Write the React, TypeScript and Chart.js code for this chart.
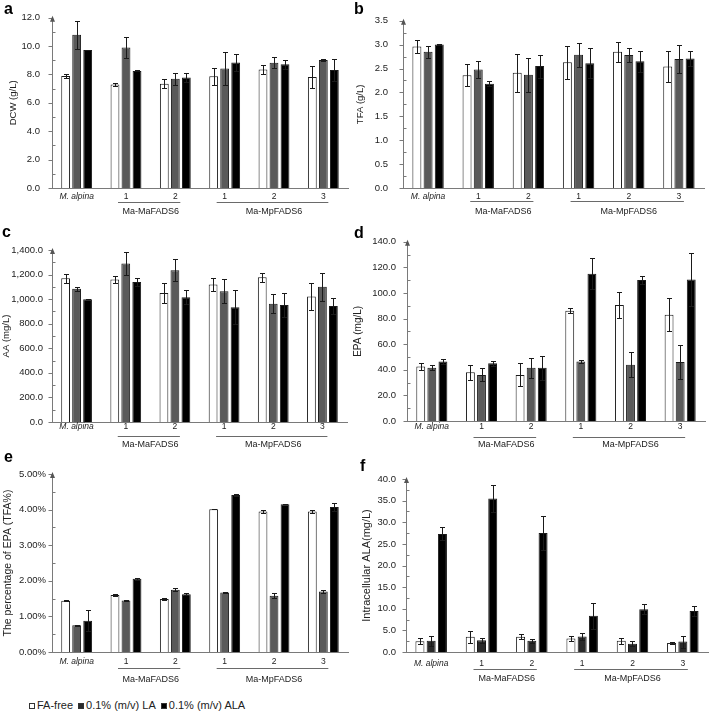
import React, { useEffect, useRef } from 'react';
import { Chart, registerables } from 'chart.js';

Chart.register(...registerables);

const FONT = '"Liberation Sans", Arial, Helvetica, sans-serif';

// ---- shared categories / groups / series ----
const categories = ['M. alpina', '1', '2', '1', '2', '3'];
const groupNames = ['Ma-MaFADS6', 'Ma-MpFADS6'];
const groupStart = [1, 3];
const groupEnd = [2, 5];
const seriesNames = ['FA-free', '0.1% (m/v) LA', '0.1% (m/v) ALA'];

// ---- a: DCW (g/L) ----
const dcwFree = [7.9, 7.3, 7.35, 7.87, 8.35, 7.82];
const dcwFreeErr = [0.15, 0.08, 0.33, 0.6, 0.35, 0.8];
const dcwLA = [10.8, 9.9, 7.7, 8.42, 8.82, 9.02];
const dcwLAErr = [1.0, 0.73, 0.42, 1.15, 0.38, 0.08];
const dcwALA = [9.72, 8.25, 7.78, 8.85, 8.72, 8.32];
const dcwALAErr = [0.02, 0.03, 0.3, 0.58, 0.33, 0.78];

// ---- b: TFA (g/L) ----
const tfaFree = [2.96, 2.36, 2.41, 2.63, 2.85, 2.54];
const tfaFreeErr = [0.14, 0.23, 0.4, 0.34, 0.21, 0.32];
const tfaLA = [2.85, 2.48, 2.37, 2.79, 2.78, 2.7];
const tfaLAErr = [0.12, 0.18, 0.36, 0.25, 0.14, 0.3];
const tfaALA = [3.0, 2.18, 2.55, 2.61, 2.65, 2.71];
const tfaALAErr = [0.01, 0.05, 0.24, 0.31, 0.22, 0.15];

// ---- c: AA (mg/L) ----
const aaFree = [1170, 1160, 1050, 1120, 1178, 1022];
const aaFreeErr = [35, 28, 85, 50, 36, 110];
const aaLA = [1085, 1290, 1235, 1065, 962, 1100];
const aaLAErr = [15, 97, 90, 95, 76, 116];
const aaALA = [1000, 1140, 1015, 935, 952, 945];
const aaALAErr = [2, 33, 58, 140, 94, 63];

// ---- d: EPA (mg/L) ----
const epaFree = [42.5, 38, 36, 86, 90.5, 83];
const epaFreeErr = [2.5, 6, 9, 2, 10, 13];
const epaLA = [41.5, 36, 41.5, 46.5, 44, 46];
const epaLAErr = [2, 5, 8, 1.3, 9.5, 13];
const epaALA = [46.5, 45, 41.5, 115, 110, 110.5];
const epaALAErr = [2.3, 2, 9.5, 12, 3, 21];

// ---- e: EPA percentage of TFA (%) ----
const pctFree = [1.44, 1.6, 1.49, 4.01, 3.95, 3.95];
const pctFreeErr = [0.01, 0.02, 0.04, 0.005, 0.04, 0.04];
const pctLA = [0.75, 1.45, 1.75, 1.67, 1.58, 1.7];
const pctLAErr = [0.01, 0.02, 0.05, 0.005, 0.07, 0.04];
const pctALA = [0.88, 2.06, 1.62, 4.41, 4.15, 4.07];
const pctALAErr = [0.29, 0.03, 0.03, 0.02, 0.005, 0.12];

// ---- f: intracellular ALA (mg/L) ----
const alaFree = [2.5, 3.5, 3.5, 3.1, 2.6, 2.1];
const alaFreeErr = [0.7, 1.4, 0.6, 0.5, 0.7, 0.3];
const alaLA = [2.6, 2.7, 2.6, 3.6, 1.9, 2.4];
const alaLAErr = [1.1, 0.6, 0.5, 0.9, 0.6, 1.4];
const alaALA = [27.3, 35.5, 27.5, 8.4, 9.9, 9.5];
const alaALAErr = [1.5, 3.2, 3.9, 3.0, 1.1, 1.2];

const fmt1 = (v: number) => v.toFixed(1);
const fmtComma = (v: number) =>
  v.toLocaleString('en-US', { minimumFractionDigits: 1, maximumFractionDigits: 1 });
const fmtPct = (v: number) => v.toFixed(2) + '%';

type PanelSpec = {
  letter: string;
  x: number; y: number; w: number; h: number;
  L: number; R: number; T: number; B: number;
  max: number; minor: number; fmt: (v: number) => string;
  title: string; titleSize: number; titleCenter: number;
  tickPad: number; xPad: number; lineOff: number; groupOff: number;
  values: number[][]; errors: number[][];
  colors: string[];
  letterPos: [number, number];
};

const baseColors = ['#ffffff', '#5a5a5a', '#000000'];
const fColors = ['#ffffff', '#2a2a2a', '#000000'];

const panels: PanelSpec[] = [
  {
    letter: 'a', x: 0, y: 0, w: 355, h: 225, L: 52, R: 348, T: 15, B: 188,
    max: 12, minor: 1, fmt: fmt1, title: 'DCW (g/L)', titleSize: 9.5, titleCenter: 13,
    tickPad: 12, xPad: 4, lineOff: 13.5, groupOff: 23.5,
    values: [dcwFree, dcwLA, dcwALA], errors: [dcwFreeErr, dcwLAErr, dcwALAErr],
    colors: baseColors, letterPos: [4, 1],
  },
  {
    letter: 'b', x: 350, y: 0, w: 360, h: 225, L: 403, R: 704, T: 15, B: 188,
    max: 3.5, minor: 0.25, fmt: fmt1, title: 'TFA (g/L)', titleSize: 9.5, titleCenter: 10,
    tickPad: 15, xPad: 3.5, lineOff: 13, groupOff: 23.5,
    values: [tfaFree, tfaLA, tfaALA], errors: [tfaFreeErr, tfaLAErr, tfaALAErr],
    colors: baseColors, letterPos: [354, 1],
  },
  {
    letter: 'c', x: 0, y: 225, w: 355, h: 225, L: 52, R: 347, T: 250, B: 422,
    max: 1400, minor: 100, fmt: fmtComma, title: 'AA (mg/L)', titleSize: 9.5, titleCenter: 6.5,
    tickPad: 9, xPad: 0, lineOff: 14, groupOff: 23,
    values: [aaFree, aaLA, aaALA], errors: [aaFreeErr, aaLAErr, aaALAErr],
    colors: baseColors, letterPos: [2, 224],
  },
  {
    letter: 'd', x: 350, y: 225, w: 360, h: 225, L: 407, R: 705, T: 240, B: 421,
    max: 140, minor: 10, fmt: fmt1, title: 'EPA (mg/L)', titleSize: 10, titleCenter: 8,
    tickPad: 11, xPad: 1, lineOff: 15.5, groupOff: 23.5,
    values: [epaFree, epaLA, epaALA], errors: [epaFreeErr, epaLAErr, epaALAErr],
    colors: baseColors, letterPos: [354, 225],
  },
  {
    letter: 'e', x: 0, y: 450, w: 355, h: 240, L: 52, R: 348, T: 474, B: 652,
    max: 5, minor: 0.5, fmt: fmtPct, title: 'The percentage of EPA (TFA%)', titleSize: 10.5, titleCenter: 8.5,
    tickPad: 6, xPad: 4.5, lineOff: 16, groupOff: 27.5,
    values: [pctFree, pctLA, pctALA], errors: [pctFreeErr, pctLAErr, pctALAErr],
    colors: baseColors, letterPos: [4, 449],
  },
  {
    letter: 'f', x: 350, y: 450, w: 360, h: 240, L: 406, R: 708, T: 479, B: 652,
    max: 40, minor: 2.5, fmt: fmt1, title: 'Intracellular ALA(mg/L)', titleSize: 11, titleCenter: 17,
    tickPad: 10, xPad: 7, lineOff: 17, groupOff: 27,
    values: [alaFree, alaLA, alaALA], errors: [alaFreeErr, alaLAErr, alaALAErr],
    colors: fColors, letterPos: [360, 458],
  },
];

function makeDecor(p: PanelSpec) {
  return {
    id: 'decor' + p.letter,
    afterDatasetsDraw(chart: any) {
      const ctx = chart.ctx;
      const ys = chart.scales.y;
      ctx.save();
      ctx.strokeStyle = '#1a1a1a';
      ctx.lineWidth = 1;
      chart.data.datasets.forEach((ds: any, i: number) => {
        const meta = chart.getDatasetMeta(i);
        const errs = p.errors[i];
        meta.data.forEach((el: any, j: number) => {
          const v = ds.data[j];
          const e = errs[j];
          if (!e) return;
          const top = Math.round(ys.getPixelForValue(v + e)) + 0.5;
          const bot = Math.round(ys.getPixelForValue(Math.max(0, v - e))) + 0.5;
          const cx = Math.round(el.x) + 0.5;
          ctx.beginPath();
          ctx.moveTo(cx, top);
          ctx.lineTo(cx, bot);
          ctx.moveTo(cx - 2.5, top);
          ctx.lineTo(cx + 2.5, top);
          ctx.moveTo(cx - 2.5, bot);
          ctx.lineTo(cx + 2.5, bot);
          ctx.stroke();
        });
      });
      ctx.restore();
    },
    afterDraw(chart: any) {
      const ctx = chart.ctx;
      const ys = chart.scales.y;
      const xs = chart.scales.x;
      const area = chart.chartArea;
      const L = Math.round(area.left) + 0.5;
      ctx.save();
      // y tick marks: major outside, minor inside
      ctx.strokeStyle = '#7a7a7a';
      ctx.lineWidth = 1;
      ys.ticks.forEach((t: any, i: number) => {
        const yy = Math.round(ys.getPixelForValue(t.value)) + 0.5;
        ctx.beginPath();
        if (i % 2 === 0) {
          ctx.moveTo(L - 4, yy);
          ctx.lineTo(L, yy);
        } else {
          ctx.moveTo(L, yy);
          ctx.lineTo(L + 3, yy);
        }
        ctx.stroke();
      });
      // arrow at top of y axis
      ctx.fillStyle = '#555';
      ctx.beginPath();
      ctx.moveTo(L, area.top - 2);
      ctx.lineTo(L - 2.5, area.top + 4);
      ctx.lineTo(L + 2.5, area.top + 4);
      ctx.closePath();
      ctx.fill();
      // group lines and labels
      const B = area.bottom;
      ctx.strokeStyle = '#6a6a6a';
      ctx.fillStyle = '#222';
      ctx.font = `9px ${FONT}`;
      ctx.textAlign = 'center';
      ctx.textBaseline = 'middle';
      groupNames.forEach((g, gi) => {
        const x0 = xs.getPixelForValue(groupStart[gi]);
        const x1 = xs.getPixelForValue(groupEnd[gi]);
        const ly = Math.round(B + p.lineOff) + 0.5;
        ctx.beginPath();
        ctx.moveTo(x0 - 8, ly);
        ctx.lineTo(x1 + 5, ly);
        ctx.stroke();
        ctx.fillText(g, (x0 + x1) / 2, B + p.groupOff);
      });
      ctx.restore();
    },
  };
}

function PanelChart({ p }: { p: PanelSpec }) {
  const ref = useRef<HTMLCanvasElement>(null);
  useEffect(() => {
    const lh = p.titleSize * 1.2;
    const chart = new Chart(ref.current as HTMLCanvasElement, {
      type: 'bar',
      data: {
        labels: categories,
        datasets: seriesNames.map((n, i) => ({
          label: n,
          data: p.values[i],
          backgroundColor: p.colors[i],
          borderColor: '#1a1a1a',
          borderWidth: 1,
          categoryPercentage: 0.67,
          barPercentage: 0.8,
        })),
      },
      options: {
        responsive: false,
        animation: false,
        devicePixelRatio: 1,
        layout: {
          padding: { left: 0, top: p.T - p.y, right: p.x + p.w - p.R, bottom: 0 },
        },
        plugins: {
          legend: { display: false },
          tooltip: { enabled: false },
        },
        scales: {
          x: {
            grid: { display: false, drawTicks: false },
            border: { display: true, color: '#7a7a7a', width: 1 },
            ticks: {
              autoSkip: false,
              maxRotation: 0,
              padding: p.xPad,
              color: '#222',
              font: (c: any) => ({
                family: FONT,
                size: 8.5,
                style: c.index === 0 ? 'italic' : 'normal',
              }),
            },
            afterFit: (s: any) => {
              s.height = p.y + p.h - p.B;
            },
          },
          y: {
            min: 0,
            max: p.max,
            grid: { display: false, drawTicks: false },
            border: { display: true, color: '#7a7a7a', width: 1 },
            ticks: {
              stepSize: p.minor,
              autoSkip: false,
              padding: p.tickPad,
              color: '#222',
              font: { family: FONT, size: 9.5 },
              callback: (v: any, i: number) => (i % 2 === 0 ? p.fmt(Number(v)) : ''),
            },
            title: {
              display: true,
              text: p.title,
              color: '#222',
              font: { family: FONT, size: p.titleSize, lineHeight: 1.2 },
              padding: { top: Math.max(0, p.titleCenter - lh / 2), bottom: 0 },
            },
            afterFit: (s: any) => {
              s.width = p.L - p.x;
            },
          },
        },
      },
      plugins: [makeDecor(p)],
    } as any);
    return () => chart.destroy();
  }, []);
  return (
    <canvas
      ref={ref}
      width={p.w}
      height={p.h}
      style={{ position: 'absolute', left: p.x, top: p.y, width: p.w, height: p.h }}
    />
  );
}

export default function App() {
  const legendColors = ['#ffffff', '#2a2a2a', '#000000'];
  return (
    <div
      style={{
        position: 'fixed',
        left: 0,
        top: 0,
        width: 710,
        height: 713,
        background: '#fff',
        overflow: 'hidden',
      }}
    >
      {panels.map((p) => (
        <PanelChart key={p.letter} p={p} />
      ))}
      {panels.map((p) => (
        <div
          key={'l' + p.letter}
          style={{
            position: 'absolute',
            left: p.letterPos[0],
            top: p.letterPos[1],
            font: `bold 16px ${FONT}`,
            lineHeight: '16px',
            color: '#000',
          }}
        >
          {p.letter}
        </div>
      ))}
      <div
        style={{
          position: 'absolute',
          left: 29,
          top: 699,
          font: `11px ${FONT}`,
          lineHeight: '13px',
          color: '#222',
          whiteSpace: 'nowrap',
          display: 'flex',
          alignItems: 'center',
        }}
      >
        {seriesNames.map((n, i) => (
          <span key={n} style={{ display: 'inline-flex', alignItems: 'center', marginRight: 5 }}>
            <span
              style={{
                display: 'inline-block',
                width: 4,
                height: 4,
                border: '1px solid #333',
                background: legendColors[i],
                marginRight: 2,
              }}
            />
            {n}
          </span>
        ))}
      </div>
    </div>
  );
}
